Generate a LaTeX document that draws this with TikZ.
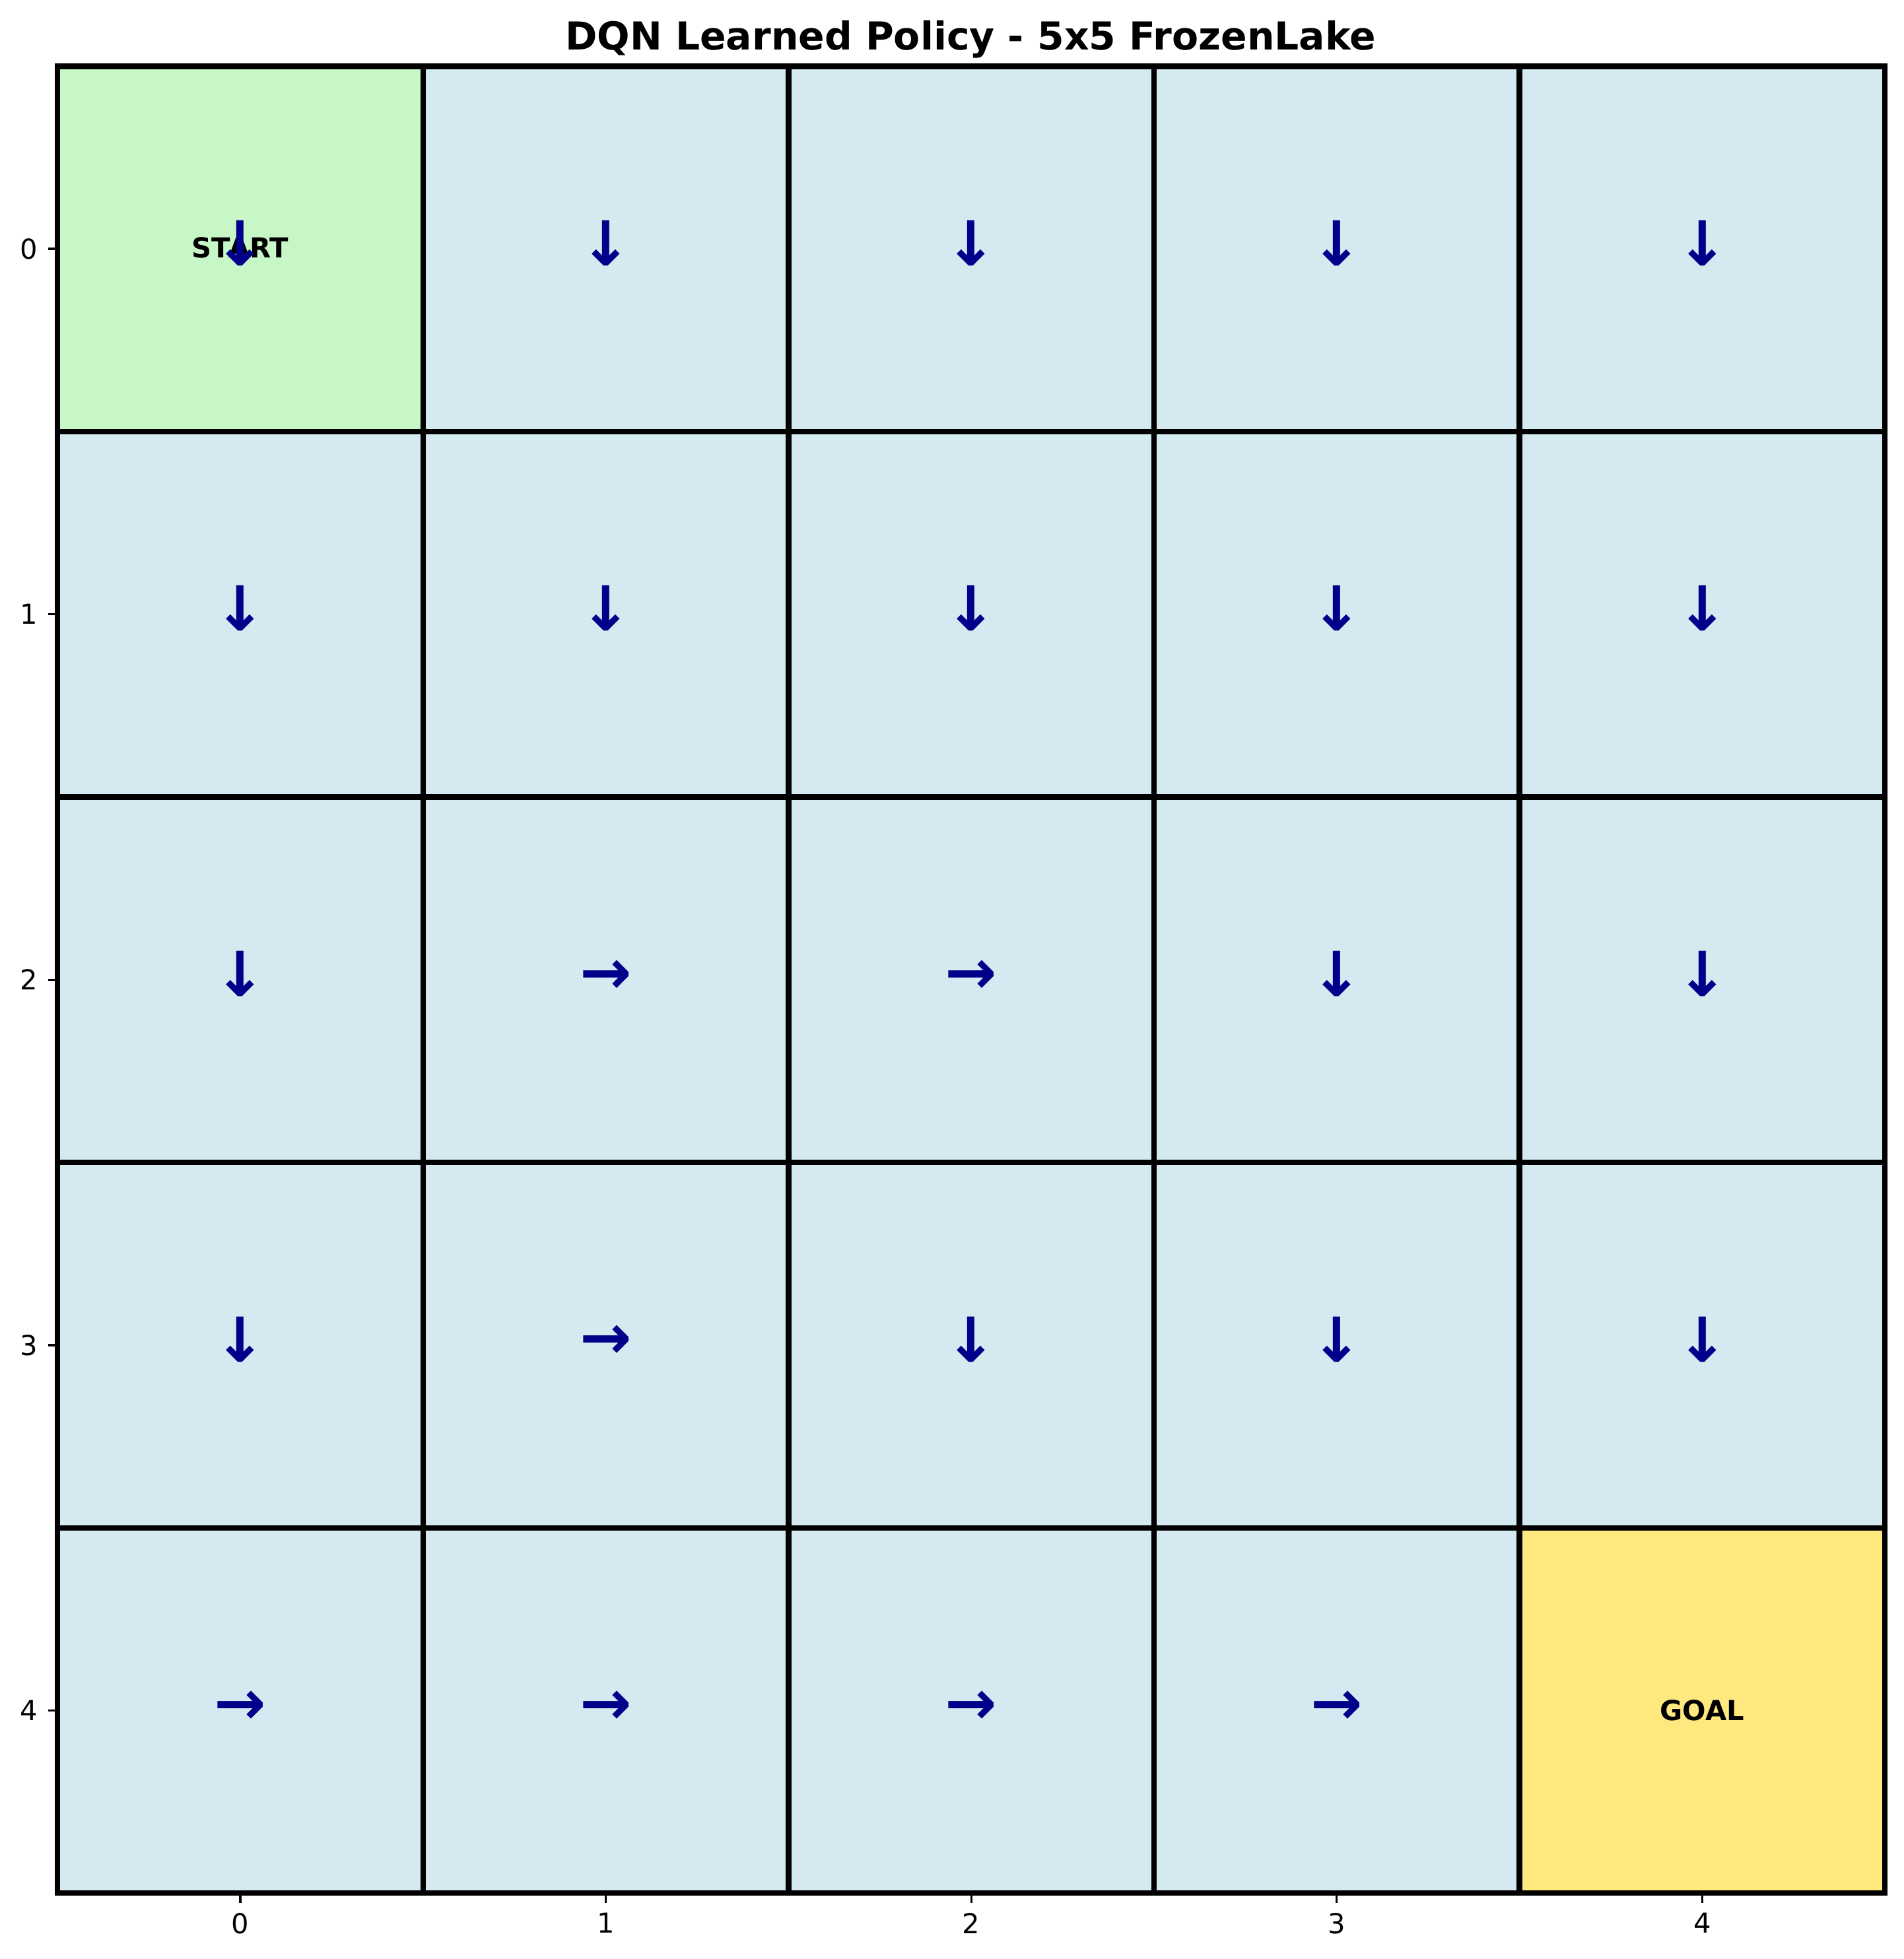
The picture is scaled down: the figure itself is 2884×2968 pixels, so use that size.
\documentclass[tikz,border=0pt]{standalone}
\usepackage{fontspec}
\setmainfont{DejaVu Sans}
\definecolor{ice}{HTML}{D4EAF0}
\definecolor{startc}{HTML}{C7F6C7}
\definecolor{goalc}{HTML}{FFE97F}
\definecolor{arrowc}{HTML}{00008B}
\tikzset{
  cell/.style={draw=black, line width=2pt, minimum size=132.86pt, inner sep=0pt, outer sep=0pt},
  arr/.style={text=arrowc, font=\fontsize{22.5}{26}\selectfont\bfseries, inner sep=0pt},
  downarr/.style={arr, yshift=2.1pt},
  rightarr/.style={arr, yshift=1.1pt},
  lbl/.style={text=black, font=\fontsize{10}{12}\selectfont\bfseries, inner sep=0pt},
  tick/.style={line width=0.8pt, black},
  ticklbl/.style={font=\fontsize{10}{12}\selectfont, inner sep=0pt},
  ttl/.style={font=\fontsize{14}{17}\selectfont\bfseries, inner sep=0pt}
}
\begin{document}
\begin{tikzpicture}[x=0.24pt,y=-0.24pt]
\useasboundingbox (0,0) rectangle (2884,2968);
\foreach \r in {0,...,4}{
  \foreach \c in {0,...,4}{
    \def\fc{ice}
    \ifnum\r=0 \ifnum\c=0 \def\fc{startc}\fi\fi
    \ifnum\r=4 \ifnum\c=4 \def\fc{goalc}\fi\fi
    \node[cell, fill=\fc] (c-\r-\c) at ({87.2+553.6*(\c+0.5)},{100.3+553.6*(\r+0.5)}) {};
  }
}
% labels
\node[lbl, yshift=0.5pt] (startlbl) at (c-0-0) {START};
\node[lbl] (goallbl) at (c-4-4) {GOAL};
% policy arrows
\foreach \r/\c/\a/\s in {0/0/↓/downarr,0/1/↓/downarr,0/2/↓/downarr,0/3/↓/downarr,0/4/↓/downarr,
                      1/0/↓/downarr,1/1/↓/downarr,1/2/↓/downarr,1/3/↓/downarr,1/4/↓/downarr,
                      2/0/↓/downarr,2/1/→/rightarr,2/2/→/rightarr,2/3/↓/downarr,2/4/↓/downarr,
                      3/0/↓/downarr,3/1/→/rightarr,3/2/↓/downarr,3/3/↓/downarr,3/4/↓/downarr,
                      4/0/→/rightarr,4/1/→/rightarr,4/2/→/rightarr,4/3/→/rightarr}{
  \node[\s] (a-\r-\c) at (c-\r-\c) {\a};
}
% ticks and tick labels
\foreach \i in {0,...,4}{
  \coordinate (bx\i) at ({87.2+553.6*(\i+0.5)},2868.3);
  \coordinate (bxe\i) at ({87.2+553.6*(\i+0.5)},2882.9);
  \draw[tick] (bx\i) -- (bxe\i);
  \node[ticklbl, anchor=north] (xl\i) at ({87.2+553.6*(\i+0.5)},2897.5) {\i};
  \coordinate (ly\i) at (87.2,{100.3+553.6*(\i+0.5)});
  \coordinate (lye\i) at (72.6,{100.3+553.6*(\i+0.5)});
  \draw[tick] (ly\i) -- (lye\i);
  \node[ticklbl, anchor=east] (yl\i) at (58,{100.3+553.6*(\i+0.5)}) {\i};
}
\node[ttl, anchor=base] (title) at (1470,75) {DQN Learned Policy - 5x5 FrozenLake};
\end{tikzpicture}
\end{document}
